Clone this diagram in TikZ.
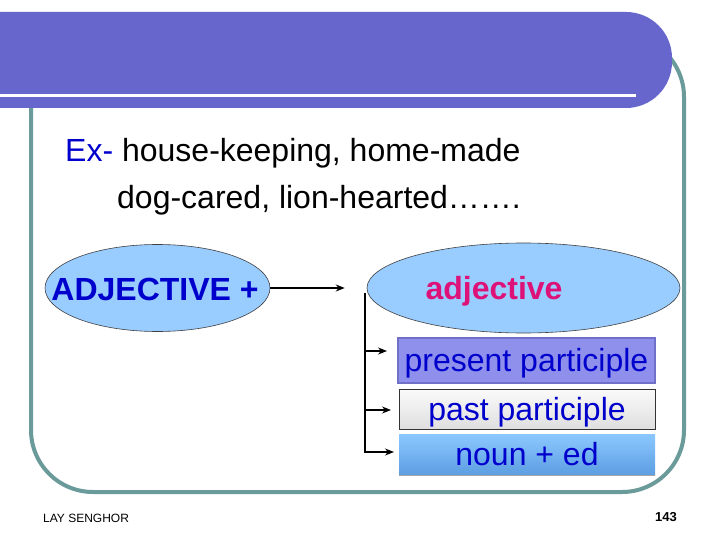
\documentclass[tikz,border=0pt]{standalone}
\usepackage{fontspec}
\setmainfont{Liberation Sans}
\usetikzlibrary{shapes.geometric,arrows.meta}
\definecolor{barcol}{RGB}{102,102,204}
\definecolor{framecol}{RGB}{106,154,154}
\definecolor{txtblue}{RGB}{0,0,204}
\definecolor{adjpink}{RGB}{221,17,119}
\definecolor{ellfill}{RGB}{153,204,255}
\definecolor{ppfill}{RGB}{143,143,236}
\definecolor{ppborder}{RGB}{112,112,200}
\definecolor{nountop}{RGB}{140,200,255}
\definecolor{nounbot}{RGB}{92,158,226}
\begin{document}
\begin{tikzpicture}[x=1pt,y=-1pt,
  big/.style={font=\fontsize{32}{38}\selectfont},
  bigbold/.style={font=\fontsize{32}{38}\selectfont\bfseries},
  ell/.style={ellipse, draw=black!75, line width=0.6pt, fill=ellfill, inner sep=0pt},
  arr/.style={-{Stealth[length=9pt,width=7pt]}, line width=1.1pt},
  boxbase/.style={big, text=txtblue, inner sep=0pt, minimum width=256pt, text height=23pt, text depth=1pt},
  ppbox/.style={boxbase, fill=ppfill, draw=ppborder, line width=2pt, minimum width=257pt, minimum height=45pt},
  pastbox/.style={boxbase, top color=gray!4, bottom color=gray!25, draw=black!80, line width=0.8pt, minimum height=40pt},
  nounbox/.style={boxbase, top color=nountop, bottom color=nounbot, minimum height=41pt}
]
\useasboundingbox (0,0) rectangle (720,540);
\clip (0,0) rectangle (720,540);
% frame
\draw[framecol, line width=4pt, rounded corners=62pt] (31,35) rectangle (684,492);
% title bar
\fill[barcol, rounded corners=46pt] (-80,12) rectangle (672,108);
\draw[white, line width=3pt] (0,96) -- (636,96);
% example text
\node[big, anchor=base west, inner sep=0pt] (ex1) at (65,162) {\textcolor{txtblue}{Ex-} house-keeping, home-made};
\node[big, anchor=base west, inner sep=0pt] (ex2) at (117,209) {dog-cared, lion-hearted…….};
% trunk and branches
\coordinate (trunktop) at (365,293);
\coordinate (e1) at (387,351);
\coordinate (e2) at (391,410);
\coordinate (e3) at (394,452);
\draw[arr] (trunktop) |- (e3);
\draw[arr] (trunktop |- e1) -- (e1);
\draw[arr] (trunktop |- e2) -- (e2);
% ellipses
\node[ell, minimum width=225pt, minimum height=87pt] (adjL) at (157.5,288) {};
\node[ell, minimum width=313pt, minimum height=90pt] (adjR) at (523.5,288) {};
\node[bigbold, text=txtblue, anchor=base, inner sep=0pt] (adjLtxt) at (155,300) {ADJECTIVE +};
\node[bigbold, text=adjpink, anchor=base, inner sep=0pt] (adjRtxt) at (494,299) {adjective};
\draw[arr] (adjL.east) -- ([xshift=-22pt]adjR.west);
% boxes
\node[ppbox] (pp) at (526.5,360.5) {present participle};
\node[pastbox] (past) at (527,409) {past participle};
\node[nounbox] (noun) at (527,454.5) {noun + ed};
\draw[gray!70, line width=1pt] (noun.south west) -- (noun.south east);
% footer
\node[font=\fontsize{12}{14}\selectfont, anchor=base west, inner sep=0pt] (auth) at (43,522) {LAY SENGHOR};
\node[font=\bfseries\fontsize{13}{15}\selectfont, anchor=base east, inner sep=0pt] (pg) at (677,521) {143};
\end{tikzpicture}
\end{document}
